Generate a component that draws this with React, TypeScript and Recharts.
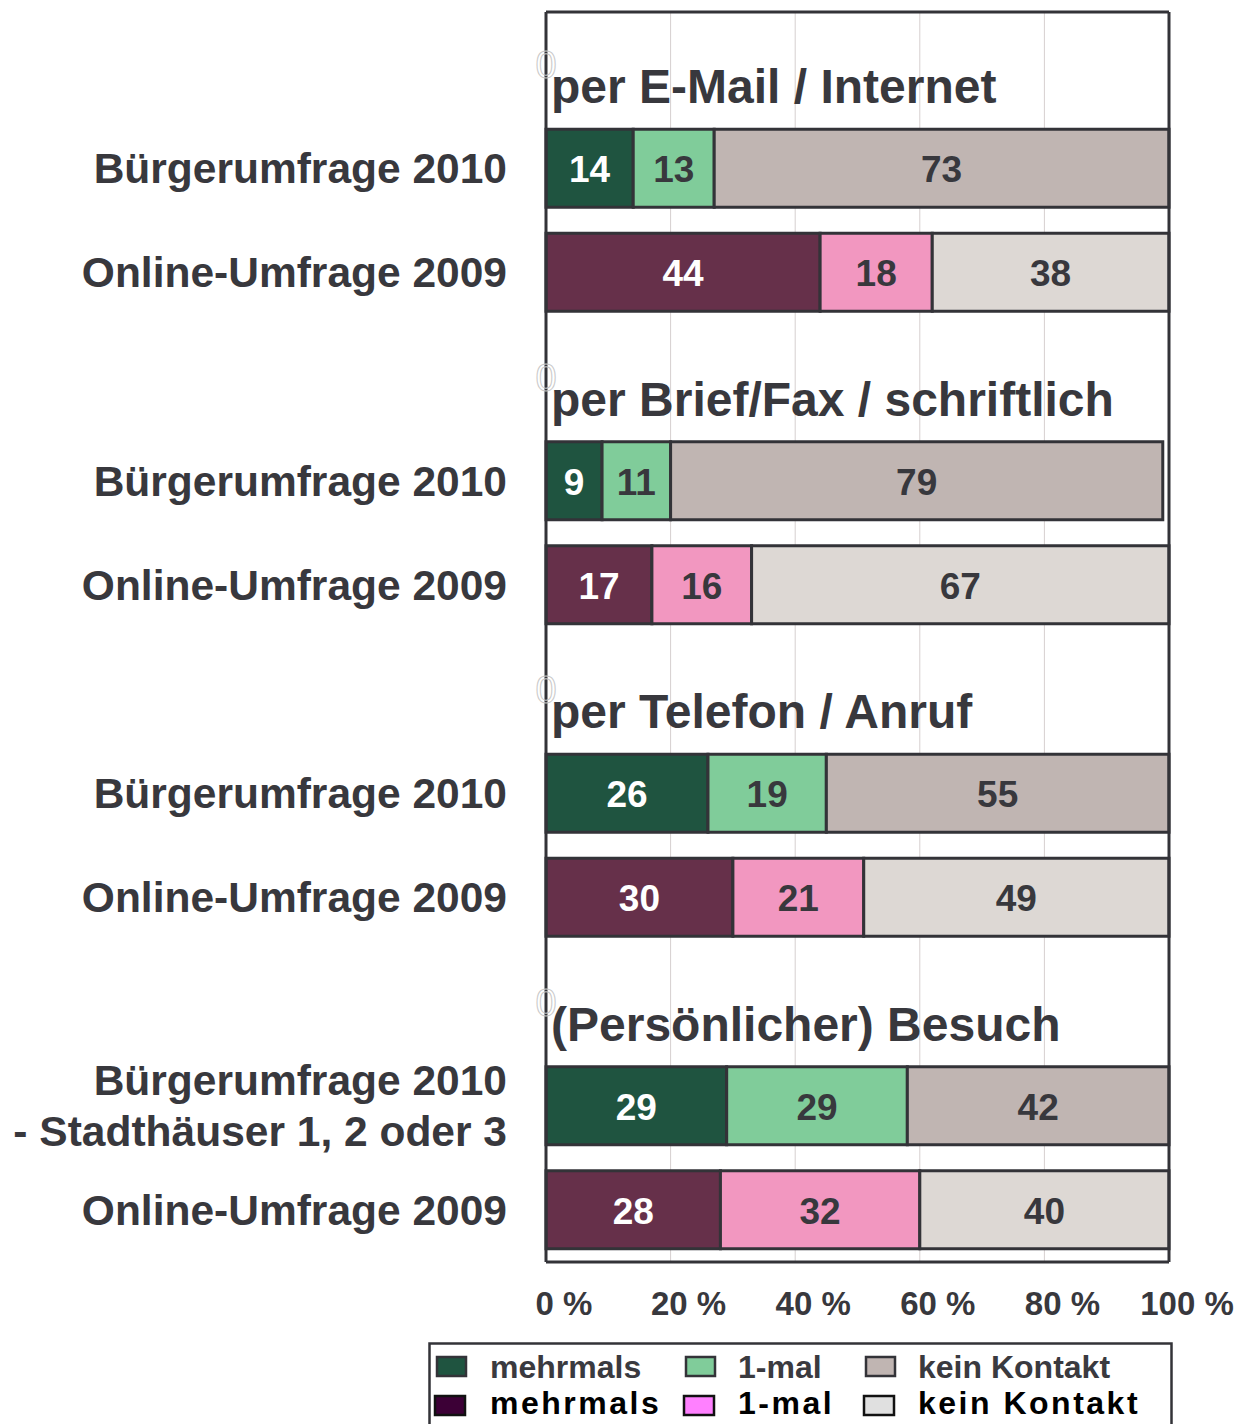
import React from 'react';
import { BarChart, Bar, XAxis, YAxis, CartesianGrid, Cell, LabelList, Legend } from 'recharts';

const groupTitles = ['per E-Mail / Internet', 'per Brief/Fax / schriftlich', 'per Telefon / Anruf', '(Persönlicher) Besuch'];
const labels2010 = ['Bürgerumfrage 2010', 'Bürgerumfrage 2010', 'Bürgerumfrage 2010', 'Bürgerumfrage 2010\n- Stadthäuser 1, 2 oder 3'];
const labels2009 = ['Online-Umfrage 2009', 'Online-Umfrage 2009', 'Online-Umfrage 2009', 'Online-Umfrage 2009'];

const mehrmals2010 = [14, 9, 26, 29];
const einmal2010 = [13, 11, 19, 29];
const kein2010 = [73, 79, 55, 42];

const mehrmals2009 = [44, 17, 30, 28];
const einmal2009 = [18, 16, 21, 32];
const kein2009 = [38, 67, 49, 40];

const xTicks = [0, 20, 40, 60, 80, 100];
const legendNames = ['mehrmals', '1-mal', 'kein Kontakt'];

const colors2010 = ['#1f5440', '#80cc9a', '#c0b5b2'];
const colors2009 = ['#66304a', '#f297c0', '#ddd8d4'];
const legendColorsRow2 = ['#3c0036', '#ff80ff', '#e0e0e0'];

type Row = { id: string; kind: 'title' | 'y2010' | 'y2009'; title: string; label: string; mehrmals: number; einmal: number; kein: number; titleSpan: number };

const rows: Row[] = [];
groupTitles.forEach((t, i) => {
  rows.push({ id: 't' + i, kind: 'title', title: t, label: '', mehrmals: 0, einmal: 0, kein: 0, titleSpan: 100 });
  rows.push({ id: 'a' + i, kind: 'y2010', title: '', label: labels2010[i], mehrmals: mehrmals2010[i], einmal: einmal2010[i], kein: kein2010[i], titleSpan: 0 });
  rows.push({ id: 'b' + i, kind: 'y2009', title: '', label: labels2009[i], mehrmals: mehrmals2009[i], einmal: einmal2009[i], kein: kein2009[i], titleSpan: 0 });
});

const FONT = '"Liberation Sans", Arial, Helvetica, sans-serif';
const DARK = '#38383d';
const FRAME = '#333338';
const seriesKeys = ['mehrmals', 'einmal', 'kein'] as const;

const colorFor = (row: Row, s: number) => (row.kind === 'y2010' ? colors2010[s] : colors2009[s]);

const makeLabel = (s: number) => (props: any) => {
  const { x, y, width, height, value } = props;
  if (!value) return null;
  return (
    <text x={x + width / 2} y={y + height / 2 + 14} textAnchor="middle" fontFamily={FONT} fontSize={37} fontWeight="bold" fill={s === 0 ? '#ffffff' : DARK}>
      {value}
    </text>
  );
};

const TitleLabel = (props: any) => {
  const { x, y, height, value } = props;
  if (!value || typeof value !== 'string') return null;
  return (
    <g>
      <text x={x} y={y + height / 2 + 14} textAnchor="middle" fontFamily={FONT} fontSize={38} fill="none" stroke="#c8c8c8" strokeWidth={1}>
        0
      </text>
      <text x={x + 5} y={y + height} textAnchor="start" fontFamily={FONT} fontSize={48} fontWeight="bold" fill={DARK}>
        {value}
      </text>
    </g>
  );
};

const YTick = (props: any) => {
  const { x, y, payload } = props;
  const row = rows.find((r) => r.id === payload.value);
  if (!row || !row.label) return null;
  const lines = row.label.split('\n');
  const lh = 51;
  const first = y + 15 - ((lines.length - 1) * lh) / 2;
  return (
    <text textAnchor="end" fontFamily={FONT} fontSize={42.5} fontWeight="bold" fill={DARK}>
      {lines.map((l, i) => (
        <tspan key={i} x={x} y={first + i * lh}>
          {l}
        </tspan>
      ))}
    </text>
  );
};

const XTick = (props: any) => {
  const { x, y, payload } = props;
  return (
    <text x={x + 18} y={y + 51} textAnchor="middle" fontFamily={FONT} fontSize={33} fontWeight="bold" fill={DARK}>
      {payload.value} %
    </text>
  );
};

const squareX = [9, 258, 438];
const textX = [62, 310, 490];

const LegendContent = () => (
  <svg width={745} height={82} style={{ display: 'block' }}>
    <path d="M1.5 82 L1.5 1.5 L743.5 1.5 L743.5 82" fill="none" stroke={FRAME} strokeWidth={2.5} />
    {legendNames.map((n, i) => (
      <g key={'r1' + i}>
        <rect x={squareX[i]} y={15} width={29} height={19} fill={colors2010[i]} stroke={FRAME} strokeWidth={2.5} />
        <text x={textX[i]} y={36} fontFamily={FONT} fontSize={32} fontWeight="bold" fill="#3a3a3f">
          {n}
        </text>
      </g>
    ))}
    {legendNames.map((n, i) => (
      <g key={'r2' + i}>
        <rect x={squareX[i] - 2} y={54} width={30} height={19} fill={legendColorsRow2[i]} stroke="#111" strokeWidth={2.5} />
        <text x={textX[i]} y={72} fontFamily={FONT} fontSize={32} fontWeight="bold" letterSpacing={2.5} fill="#000">
          {n}
        </text>
      </g>
    ))}
  </svg>
);

export default function App() {
  return (
    <div style={{ position: 'absolute', left: 0, top: 0, width: 1240, height: 1424, background: '#fff', fontFamily: FONT }}>
      <BarChart
        width={1240}
        height={1424}
        data={rows}
        layout="vertical"
        margin={{ top: 11, right: 70, left: 0, bottom: 0 }}
        barSize={78}
      >
        <CartesianGrid horizontal={false} vertical={true} stroke="#d6cfcf" strokeWidth={1} />
        <XAxis
          type="number"
          domain={[0, 100]}
          ticks={xTicks}
          orientation="bottom"
          height={80}
          axisLine={{ stroke: FRAME, strokeWidth: 3 }}
          tickLine={false}
          tickSize={0}
          tick={<XTick />}
          interval={0}
        />
        <XAxis
          xAxisId="top"
          type="number"
          domain={[0, 100]}
          orientation="top"
          height={1}
          tick={false}
          tickLine={false}
          axisLine={{ stroke: FRAME, strokeWidth: 3 }}
        />
        <YAxis
          type="category"
          dataKey="id"
          width={546}
          axisLine={{ stroke: FRAME, strokeWidth: 3 }}
          tickLine={false}
          tickSize={0}
          tickMargin={39}
          tick={<YTick />}
          interval={0}
        />
        <YAxis
          yAxisId="right"
          type="category"
          dataKey="id"
          orientation="right"
          width={1}
          tick={false}
          tickLine={false}
          axisLine={{ stroke: FRAME, strokeWidth: 3 }}
        />
        {seriesKeys.map((k, s) => (
          <Bar key={k} dataKey={k} stackId="s" stroke={FRAME} strokeWidth={3} isAnimationActive={false}>
            {rows.map((r, i) => (
              <Cell key={i} fill={colorFor(r, s)} />
            ))}
            <LabelList dataKey={k} content={makeLabel(s)} />
          </Bar>
        ))}
        <Bar dataKey="titleSpan" stackId="s" fill="none" stroke="none" isAnimationActive={false}>
          <LabelList valueAccessor={(entry: any) => (entry && entry.payload ? entry.payload.title : '')} content={<TitleLabel />} />
        </Bar>
        <Legend
          verticalAlign="bottom"
          align="left"
          content={<LegendContent />}
          wrapperStyle={{ left: 428, bottom: 0, width: 745, height: 82 }}
        />
      </BarChart>
    </div>
  );
}
